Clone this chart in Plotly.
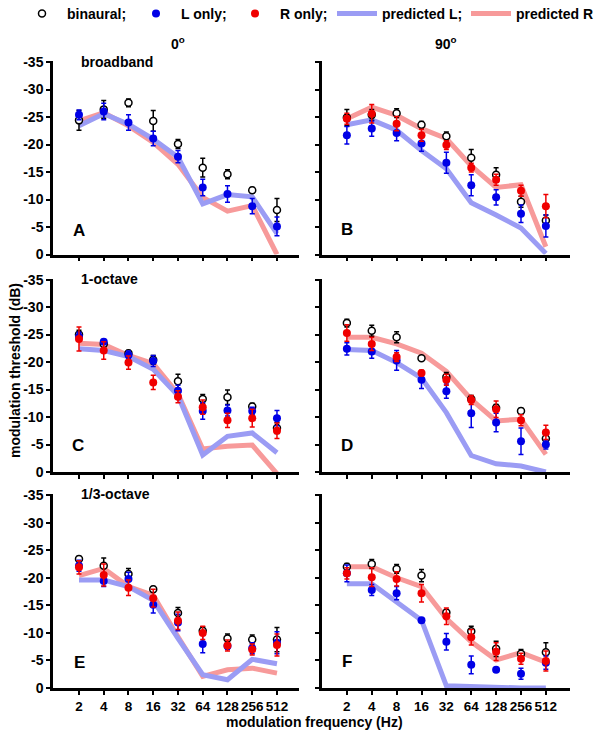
import math
import plotly.graph_objects as go

W, H = 601, 738

freqs = [2, 4, 8, 16, 32, 64, 128, 256, 512]
freq_labels = ["2", "4", "8", "16", "32", "64", "128", "256", "512"]
y_ticks = [-35, -30, -25, -20, -15, -10, -5, 0]
y_tick_labels = ["-35", "-30", "-25", "-20", "-15", "-10", "-5", "0"]

# Panel A: 0 deg, broadband
bin_A = [-24.4, -26.4, -27.6, -24.3, -20.1, -15.8, -14.6, -11.7, -8.1]
bin_A_err = [1.8, 1.6, 0.7, 1.9, 0.8, 1.7, 0.8, 0.5, 2.1]
L_A = [-25.4, -26.0, -24.0, -21.1, -17.8, -12.2, -11.0, -8.8, -5.1]
L_A_err = [0.9, 1.5, 1.4, 1.3, 1.1, 1.5, 1.5, 1.4, 1.7]
pL_A = [-23.4, -25.6, -23.7, -21.0, -17.7, -9.2, -10.9, -10.5, -3.8]
pR_A = [-24.3, -25.8, -23.4, -20.4, -16.4, -10.4, -7.9, -8.9, 0.0]

# Panel B: 90 deg, broadband
bin_B = [-24.9, -25.4, -25.7, -23.6, -21.5, -17.6, -14.5, -9.6, -6.2]
bin_B_err = [1.5, 1.0, 0.8, 0.6, 0.8, 1.5, 1.3, 1.0, 1.0]
L_B = [-21.7, -22.9, -22.1, -20.2, -16.7, -12.6, -10.4, -7.4, -5.2]
L_B_err = [1.6, 1.4, 1.4, 1.4, 1.9, 1.9, 1.4, 1.6, 2.0]
R_B = [-24.7, -25.6, -23.8, -21.7, -19.9, -15.8, -13.6, -11.6, -8.8]
R_B_err = [1.0, 1.7, 1.3, 1.1, 0.8, 0.8, 1.0, 1.0, 2.1]
pL_B = [-23.6, -24.5, -22.6, -18.9, -15.6, -9.4, -7.2, -4.8, -0.2]
pR_B = [-24.7, -26.8, -25.3, -22.9, -21.1, -16.1, -12.2, -12.7, -1.4]

# Panel C: 0 deg, 1-octave
bin_C = [-25.0, -23.3, -21.6, -20.4, -16.5, -13.3, -13.6, -11.9, -8.0]
bin_C_err = [0.8, 0.5, 0.5, 0.8, 1.3, 0.8, 1.3, 0.6, 1.0]
L_C = [-24.6, -23.7, -21.3, -20.2, -14.8, -11.1, -11.2, -11.1, -9.8]
L_C_err = [0.8, 0.4, 0.7, 1.0, 1.0, 1.5, 1.0, 0.7, 1.4]
R_C = [-24.2, -22.1, -19.9, -16.3, -13.7, -11.8, -9.4, -9.8, -7.5]
R_C_err = [2.2, 1.6, 1.2, 1.3, 1.1, 1.3, 1.3, 1.6, 1.4]
pL_C = [-22.4, -22.1, -21.0, -18.7, -13.9, -3.1, -6.5, -7.1, -3.5]
pR_C = [-23.4, -23.2, -21.2, -19.7, -14.2, -4.2, -4.7, -4.9, 0.3]

# Panel D: 90 deg, 1-octave
bin_D = [-27.1, -25.7, -24.5, -20.7, -17.3, -13.3, -11.7, -11.1, -6.1]
bin_D_err = [0.7, 1.0, 1.0, 0.3, 0.8, 0.6, 0.6, 0.5, 0.5]
L_D = [-22.4, -21.9, -20.3, -16.8, -14.7, -10.7, -9.0, -5.6, -5.0]
L_D_err = [1.1, 1.2, 1.8, 1.6, 1.3, 2.6, 1.7, 2.4, 0.8]
R_D = [-25.3, -23.3, -20.9, -18.0, -16.8, -13.1, -11.4, -9.4, -7.2]
R_D_err = [1.5, 1.2, 0.8, 0.5, 1.0, 0.8, 1.5, 1.0, 1.3]
pL_D = [-22.3, -22.1, -19.9, -17.1, -10.8, -3.0, -1.5, -1.1, 0.0]
pR_D = [-24.5, -24.5, -23.3, -21.6, -18.3, -13.2, -9.3, -9.6, -3.2]

# Panel E: 0 deg, 1/3-octave
bin_E = [-23.4, -22.2, -20.7, -17.9, -13.6, -10.4, -9.0, -8.8, -8.8]
bin_E_err = [0.5, 1.4, 1.0, 0.5, 1.0, 0.7, 0.8, 0.8, 2.2]
L_E = [-22.2, -19.4, -19.8, -15.1, -11.9, -8.0, -7.6, -7.2, -8.2]
L_E_err = [1.0, 1.0, 1.2, 1.5, 1.5, 1.6, 0.6, 1.0, 2.0]
R_E = [-21.9, -20.5, -18.2, -16.3, -12.2, -10.0, -7.7, -7.0, -7.8]
R_E_err = [1.2, 2.0, 1.4, 1.6, 1.6, 1.2, 1.0, 1.0, 2.0]
pL_E = [-19.6, -19.6, -18.4, -15.9, -9.0, -2.4, -1.5, -5.2, -4.4]
pR_E = [-20.4, -21.7, -18.4, -16.8, -9.3, -2.1, -3.3, -3.6, -2.7]

# Panel F: 90 deg, 1/3-octave
bin_F = [-22.0, -22.5, -21.6, -20.4, -13.7, -10.3, -7.1, -6.2, -6.5]
bin_F_err = [0.6, 0.8, 0.8, 1.1, 0.5, 0.9, 1.4, 0.8, 1.7]
L_F = [-20.8, -17.8, -17.2, -12.3, -8.4, -4.2, -3.3, -2.6, -4.6]
L_F_err = [1.5, 1.0, 1.2, 0.3, 1.5, 1.6, 0.3, 1.0, 1.2]
R_F = [-20.8, -20.1, -19.8, -17.2, -13.0, -9.2, -6.6, -5.3, -4.9]
R_F_err = [1.0, 1.7, 1.3, 1.6, 1.5, 1.4, 1.6, 1.0, 1.8]
pL_F = [-18.9, -18.9, -15.6, -12.3, -0.4, -0.2, -0.1, 0.0, 0.0]
pR_F = [-22.0, -22.0, -20.0, -18.4, -12.6, -8.4, -5.1, -6.4, -4.7]

panels = [
    dict(letter="A", b=bin_A, be=bin_A_err, L=L_A, Le=L_A_err, R=None, Re=None, pL=pL_A, pR=pR_A),
    dict(letter="B", b=bin_B, be=bin_B_err, L=L_B, Le=L_B_err, R=R_B, Re=R_B_err, pL=pL_B, pR=pR_B),
    dict(letter="C", b=bin_C, be=bin_C_err, L=L_C, Le=L_C_err, R=R_C, Re=R_C_err, pL=pL_C, pR=pR_C),
    dict(letter="D", b=bin_D, be=bin_D_err, L=L_D, Le=L_D_err, R=R_D, Re=R_D_err, pL=pL_D, pR=pR_D),
    dict(letter="E", b=bin_E, be=bin_E_err, L=L_E, Le=L_E_err, R=R_E, Re=R_E_err, pL=pL_E, pR=pR_E),
    dict(letter="F", b=bin_F, be=bin_F_err, L=L_F, Le=L_F_err, R=R_F, Re=R_F_err, pL=pL_F, pR=pR_F),
]

FONT = "Liberation Sans, Arial, sans-serif"
BLUE = "#0000e6"
RED = "#f00000"
LBLUE = "#9b9cf4"
LRED = "#f79a9a"

# pixel layout
col_px = [(53, 299), (322, 570)]
col_range_log2 = [(-0.05, 9.89), (0.0, 9.97)]
row_px = [(61, 254.5), (278.5, 472), (494, 688)]


def px_x(p):
    return p / W


def px_y(p):
    return 1 - p / H


fig = go.Figure()
layout = {}
annotations = []

legend_done = {"b": False, "L": False, "R": False, "pL": False, "pR": False}

for i, pn in enumerate(panels):
    r, c = divmod(i, 2)
    n = i + 1
    xa = "x" if n == 1 else f"x{n}"
    ya = "y" if n == 1 else f"y{n}"

    def add(trace):
        trace.update(xaxis=xa, yaxis=ya)
        fig.add_trace(trace)

    add(go.Scatter(x=freqs, y=pn["pR"], mode="lines", name="predicted R",
                   line=dict(color=LRED, width=5), legend="legend5",
                   showlegend=not legend_done["pR"]))
    legend_done["pR"] = True
    add(go.Scatter(x=freqs, y=pn["pL"], mode="lines", name="predicted L;",
                   line=dict(color=LBLUE, width=5), legend="legend4",
                   showlegend=not legend_done["pL"]))
    legend_done["pL"] = True
    add(go.Scatter(x=freqs, y=pn["b"], mode="markers", name="binaural;",
                   marker=dict(symbol="circle", size=7, color="white",
                               line=dict(color="black", width=1.5)),
                   error_y=dict(type="data", array=pn["be"], color="black", thickness=1.5, width=2.5),
                   legend="legend", showlegend=not legend_done["b"]))
    legend_done["b"] = True
    add(go.Scatter(x=freqs, y=pn["L"], mode="markers", name="L only;",
                   marker=dict(symbol="circle", size=8, color=BLUE),
                   error_y=dict(type="data", array=pn["Le"], color=BLUE, thickness=1.5, width=2.5),
                   legend="legend2", showlegend=not legend_done["L"]))
    legend_done["L"] = True
    if pn["R"] is not None:
        add(go.Scatter(x=freqs, y=pn["R"], mode="markers", name="R only;",
                       marker=dict(symbol="circle", size=8, color=RED),
                       error_y=dict(type="data", array=pn["Re"], color=RED, thickness=1.5, width=2.5),
                       legend="legend3", showlegend=not legend_done["R"]))
        legend_done["R"] = True

    x0, x1 = col_px[c]
    y0, y1 = row_px[r]
    lr = col_range_log2[c]
    layout["xaxis" if n == 1 else f"xaxis{n}"] = dict(
        domain=[px_x(x0), px_x(x1)], anchor=ya, type="log", automargin=False,
        range=[lr[0] * math.log10(2), lr[1] * math.log10(2)],
        tickmode="array", tickvals=freqs, ticktext=freq_labels, tickangle=0,
        showticklabels=(r == 2), ticks="outside", ticklen=4, tickwidth=2, tickcolor="black",
        showline=True, linecolor="black", linewidth=2.5, showgrid=False, zeroline=False,
        tickfont=dict(family=FONT, size=13.5, color="black", weight="bold"),
    )
    layout["yaxis" if n == 1 else f"yaxis{n}"] = dict(
        domain=[px_y(y1), px_y(y0)], anchor=xa, range=[0, -35.2], automargin=False,
        tickmode="array", tickvals=y_ticks, ticktext=y_tick_labels,
        showticklabels=(c == 0), ticks="outside", ticklen=4, tickwidth=2, tickcolor="black",
        showline=True, linecolor="black", linewidth=2.5, showgrid=False, zeroline=False,
        tickfont=dict(family=FONT, size=14, color="black", weight="bold"),
    )

letter_pos = [(79, 230), (347, 229), (78, 445), (347, 445), (79, 662), (347, 661)]
for pn, (lx, ly) in zip(panels, letter_pos):
    annotations.append(dict(text=pn["letter"], x=px_x(lx), y=px_y(ly), xref="paper", yref="paper",
                            xanchor="center", yanchor="middle", showarrow=False,
                            font=dict(family=FONT, size=17, color="black", weight="bold")))

sub_pos = {"broadband": 61.5, "1-octave": 279, "1/3-octave": 494}
for s, sy in sub_pos.items():
    annotations.append(dict(text=s, x=px_x(79), y=px_y(sy), xref="paper", yref="paper",
                            xanchor="left", yanchor="middle", showarrow=False,
                            font=dict(family=FONT, size=14, color="black", weight="bold")))

for t, tx in [("0<sup>o</sup>", 178), ("90<sup>o</sup>", 446)]:
    annotations.append(dict(text=t, x=px_x(tx), y=px_y(43), xref="paper", yref="paper",
                            xanchor="center", yanchor="middle", showarrow=False,
                            font=dict(family=FONT, size=14, color="black", weight="bold")))

annotations.append(dict(text="modulation frequency (Hz)", x=px_x(314), y=px_y(722), xref="paper", yref="paper",
                        xanchor="center", yanchor="middle", showarrow=False,
                        font=dict(family=FONT, size=14, color="black", weight="bold")))
annotations.append(dict(text="modulation threshold (dB)", x=px_x(15), y=px_y(371), xref="paper", yref="paper",
                        xanchor="center", yanchor="middle", showarrow=False, textangle=-90,
                        font=dict(family=FONT, size=14, color="black", weight="bold")))

leg_common = dict(orientation="h", yanchor="middle", y=px_y(14), xanchor="left",
                  bgcolor="rgba(0,0,0,0)", borderwidth=0, itemwidth=40,
                  font=dict(family=FONT, size=14, color="black", weight="bold"))
leg_x = [17, 131, 230, 332, 466]
for k, lx in enumerate(leg_x):
    key = "legend" if k == 0 else f"legend{k + 1}"
    layout[key] = dict(leg_common, x=px_x(lx))

fig.update_layout(
    width=W, height=H, margin=dict(l=0, r=0, t=0, b=0, autoexpand=False),
    paper_bgcolor="white", plot_bgcolor="white",
    font=dict(family=FONT, color="black"),
    annotations=annotations, **layout,
)

fig.write_html("out.html", config={"displayModeBar": False},
               post_script="document.body.style.margin='0';document.body.style.overflow='hidden';")
